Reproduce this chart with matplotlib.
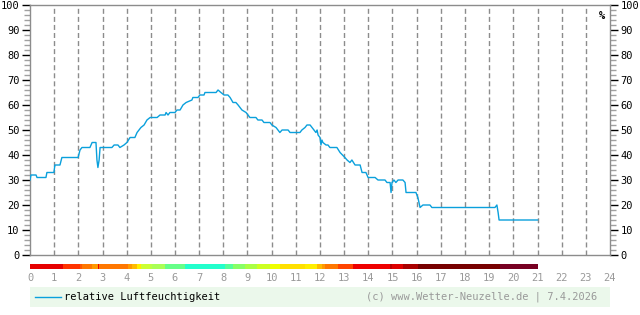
import numpy as np
import matplotlib
matplotlib.use('Agg')
import matplotlib.pyplot as plt

plt.rcParams['font.family'] = ['DejaVu Sans Mono']
plt.rcParams['font.size'] = 7.5

# relative humidity (%) over the day, hour of day
hours = [0.00, 0.04, 0.25, 0.29, 0.66, 0.70, 0.99, 1.03, 1.24, 1.32, 1.99, 2.07, 2.15,
         2.48, 2.57, 2.73, 2.77, 2.81, 2.86, 2.90, 3.39, 3.48, 3.64, 3.72, 3.89, 4.01,
         4.14, 4.34, 4.43, 4.59, 4.72, 4.84, 4.97, 5.26, 5.38, 5.59, 5.63, 5.71, 5.79,
         6.00, 6.08, 6.21, 6.33, 6.46, 6.70, 6.74, 6.95, 7.03, 7.20, 7.24, 7.70, 7.78,
         7.90, 8.03, 8.19, 8.28, 8.40, 8.52, 8.61, 8.69, 8.77, 8.94, 9.02, 9.10, 9.35,
         9.43, 9.60, 9.68, 9.93, 10.01, 10.18, 10.26, 10.34, 10.43, 10.68, 10.76, 11.17,
         11.25, 11.38, 11.46, 11.59, 11.67, 11.75, 11.83, 11.88, 11.92, 12.00, 12.04,
         12.08, 12.12, 12.25, 12.33, 12.41, 12.70, 12.83, 13.03, 13.12, 13.24, 13.32,
         13.45, 13.66, 13.74, 13.90, 13.99, 14.28, 14.40, 14.69, 14.77, 14.90, 14.94,
         14.98, 15.06, 15.14, 15.23, 15.43, 15.52, 15.56, 15.97, 16.05, 16.14, 16.26,
         16.55, 16.63, 19.24, 19.32, 19.37, 19.41, 21.00]
humidity = [30, 32, 32, 31, 31, 33, 33, 36, 36, 39, 39, 42, 43,
            43, 45, 45, 38, 35, 38, 43, 43, 44, 44, 43, 44, 45,
            47, 47, 49, 51, 52, 54, 55, 55, 56, 56, 57, 56, 57,
            57, 58, 58, 60, 61, 62, 63, 63, 64, 64, 65, 65, 66,
            65, 64, 64, 63, 61, 61, 60, 59, 58, 57, 56, 55, 55,
            54, 54, 53, 53, 52, 51, 50, 49, 50, 50, 49, 49,
            50, 51, 52, 52, 51, 50, 49, 50, 48, 47, 44,
            46, 45, 44, 44, 43, 43, 41, 39, 38, 37, 38,
            36, 36, 33, 33, 31, 31, 30, 30, 29, 29, 25,
            29, 30, 29, 30, 30, 29, 25, 25, 23, 19, 20,
            20, 19, 19, 20, 17, 14, 14]

# temperature colour strip below the plot
bar_edges = [0, 1.37, 2.07, 2.15, 2.57, 2.81, 2.86, 4.06, 4.22, 4.43, 4.59, 4.97, 5.05,
             5.59, 6.41, 8.07, 8.40, 8.90, 9.39, 9.93, 10.34, 11.38, 11.88, 12.08, 12.21,
             12.74, 13.37, 14.90, 14.98, 15.43, 16.05, 19.45, 21.0]
bar_colors = ['#e60000', '#ff3300', '#ff5500', '#ff7700', '#ff9900', '#ee0000', '#ff7700',
              '#ff9900', '#ffbb00', '#ffee00', '#ccff33', '#bbff44', '#aaff55', '#66ff88',
              '#22ffcc', '#55ff99', '#88ff66', '#aaff44', '#ccff22', '#eeff00', '#ffe000',
              '#ffee00', '#ffbb00', '#ff9900', '#ff7700', '#ff4400', '#ee0000', '#bb0000',
              '#dd0000', '#aa0000', '#770000', '#770022']

hour_ticks = list(range(0, 25))
y_ticks = list(range(0, 101, 10))

W, H = 640, 315
fig = plt.figure(figsize=(W / 100, H / 100), dpi=100)
fig.patch.set_facecolor('white')

line_color = '#0aa0dc'
grey = '#8c8c8c'

# main plot
ax = fig.add_axes([30 / W, 60 / H, 580 / W, 250 / H])
ax.plot(hours, humidity, color=line_color, lw=1.0, zorder=3)
ax.set_xlim(0, 24)
ax.set_ylim(0, 100)
for h in hour_ticks[1:-1]:
    ax.axvline(h, color=grey, lw=1.0, ls=(0, (3.6, 2.2)), zorder=1)
for s in ax.spines.values():
    s.set_color(grey)
    s.set_linewidth(1.0)
ax.set_xticks([])
ax.set_yticks(y_ticks)
ax.set_yticks(range(0, 101, 2), minor=True)
ax.tick_params(axis='y', which='major', left=True, right=True, labelleft=True,
               labelright=True, direction='out', length=6, width=1, color='black',
               pad=1.5, labelsize=7.5)
ax.tick_params(axis='y', which='minor', left=True, right=True, direction='out',
               length=4.5, width=1, color='#a0a0a0')
ax.text(0.992, 0.955, '%', transform=ax.transAxes, ha='right', va='center',
        fontsize=7.5, fontweight='bold')

# colour strip with hour labels
axb = fig.add_axes([30 / W, 46 / H, 580 / W, 5 / H])
lefts = bar_edges[:-1]
widths = np.diff(bar_edges)
axb.bar(lefts, 1, width=widths, align='edge', color=bar_colors, linewidth=0)
axb.set_xlim(0, 24)
axb.set_ylim(0, 1)
for s in axb.spines.values():
    s.set_visible(False)
axb.set_yticks([])
axb.set_xticks(hour_ticks)
axb.set_xticklabels([str(h) for h in hour_ticks])
axb.tick_params(axis='x', length=0, pad=3, labelcolor='#999999', labelsize=7.5)

# legend strip
axl = fig.add_axes([30 / W, 8 / H, 580 / W, 20 / H])
axl.set_facecolor('#ebf8eb')
for s in axl.spines.values():
    s.set_visible(False)
axl.set_xticks([])
axl.set_yticks([])
axl.set_xlim(0, W - 60)
axl.set_ylim(0, 1)
axl.plot([5, 31], [0.5, 0.5], color=line_color, lw=1.0)
axl.text(34, 0.5, 'relative Luftfeuchtigkeit', ha='left', va='center', fontsize=7.5)
axl.text(567, 0.5, '(c) www.Wetter-Neuzelle.de | 7.4.2026', ha='right', va='center',
         fontsize=7.5, color='#999999')

fig.savefig('out.png', dpi=100)
